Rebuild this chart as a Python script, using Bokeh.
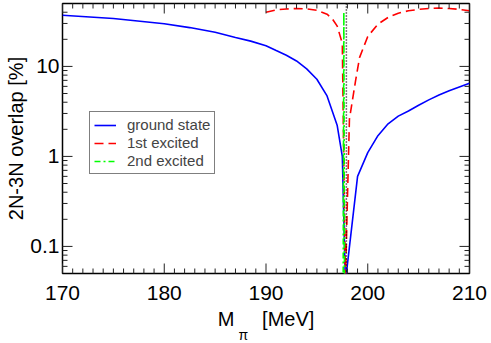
import math
from bokeh.plotting import figure
from bokeh.models import Range1d, FixedTicker, Legend, LegendItem, Span, CustomJSTickFormatter, Title
from bokeh.embed import file_html
from bokeh.resources import INLINE

# ---------------- data ----------------
mpi_ground = [170, 175, 180, 182.5, 185, 187, 188.5, 190, 191, 192, 193, 194, 195, 196, 197, 197.5, 197.8,
              199, 200, 201, 202, 203, 204, 205, 206, 207, 208, 209, 210]
ov_ground = [37, 34, 29.8, 27, 24, 21, 19.1, 17, 15, 13.3, 11.5, 9.4, 7.2, 4.7, 2.2, 1.0, 0.04,
             0.6, 1.1, 1.7, 2.3, 2.8, 3.2, 3.7, 4.25, 4.8, 5.35, 5.9, 6.5]

mpi_first = [190, 191, 192, 193, 194, 195, 196, 196.5, 197, 197.5, 197.8, 198.2, 198.8, 199.2, 200,
             201, 202, 203, 204, 205, 206, 207, 208, 209, 210]
ov_first = [40, 42.5, 43.5, 44, 43.5, 42, 38, 34, 28, 18, 0.04, 2.6, 6.9, 12.6, 21.5,
            29.5, 35, 39, 41.5, 43, 44, 44.5, 44, 43, 41.5]

mpi_second = [197.55, 197.65, 197.75]
ov_second = [0.001, 40, 0.001]

crossing_mpi = 197.9

x_lo, x_hi = 170, 210
y_lo, y_hi = 0.05, 50
x_ticks = [170, 180, 190, 200, 210]
x_minor = [v for v in range(171, 210) if v % 10 != 0]
y_ticks = [0.1, 1, 10]
y_minor = [0.06, 0.07, 0.08, 0.09, 0.2, 0.3, 0.4, 0.5, 0.6, 0.7, 0.8, 0.9,
           2, 3, 4, 5, 6, 7, 8, 9, 20, 30, 40]

FONT = "Liberation Sans"
TICK = "#222222"
FRAME_W, FRAME_H = 407, 270

p = figure(x_range=Range1d(x_lo, x_hi), y_range=Range1d(y_lo, y_hi), y_axis_type="log",
           frame_width=FRAME_W, frame_height=FRAME_H,
           min_border_top=3, min_border_right=20, min_border_left=62, min_border_bottom=70,
           output_backend="svg", toolbar_location=None)
p.outline_line_color = "black"
p.outline_line_width = 1.5
p.grid.visible = False
p.background_fill_color = "white"

for ax in (p.xaxis[0], p.yaxis[0]):
    ax.major_tick_line_color = None
    ax.minor_tick_line_color = None
    ax.major_tick_out = 0
    ax.minor_tick_out = 0
    ax.axis_line_color = None
    ax.major_label_text_font = FONT
    ax.major_label_text_font_size = "21px"
    ax.major_label_text_color = "black"
    ax.axis_label_text_font = FONT
    ax.axis_label_text_font_size = "20px"
    ax.axis_label_text_font_style = "normal"
    ax.axis_label_text_color = "black"

xa = p.xaxis[0]
xa.ticker = FixedTicker(ticks=x_ticks)
xa.major_label_standoff = 12
xa.axis_label = "M\u00a0\u00a0\u00a0\u00a0\u00a0[MeV]"
xa.axis_label_standoff = 5

ya = p.yaxis[0]
ya.ticker = FixedTicker(ticks=y_ticks)
ya.formatter = CustomJSTickFormatter(code="return tick.toString();")
ya.major_label_standoff = 3
ya.axis_label = "2N-3N overlap [%]"
ya.axis_label_standoff = 0

# subscript pi of the x-axis title
p.add_layout(Title(text="π", align="left", offset=176, text_font=FONT, text_font_size="14px",
                   text_font_style="normal", text_color="black", standoff=-15), "below")

# inward ticks on all four sides (lengths in pixels converted to data units)
dx_px = (x_hi - x_lo) / FRAME_W
dlog_px = math.log10(y_hi / y_lo) / FRAME_H
tick_xs, tick_ys = [], []
for xs, L in ((x_ticks, 10), (x_minor, 5)):
    f = 10 ** (L * dlog_px)
    for xv in xs:
        tick_xs += [[xv, xv], [xv, xv]]
        tick_ys += [[y_lo, y_lo * f], [y_hi, y_hi / f]]
for ys, L in ((y_ticks, 10), (y_minor, 5)):
    d = L * dx_px
    for yv in ys:
        tick_xs += [[x_lo, x_lo + d], [x_hi, x_hi - d]]
        tick_ys += [[yv, yv], [yv, yv]]

r1 = p.line(mpi_ground, ov_ground, line_color="#0000ff", line_width=1.6)
r2 = p.line(mpi_first, ov_first, line_color="#ff0000", line_width=1.6, line_dash="9 5")
r3 = p.line(mpi_second, ov_second, line_color="#00ff00", line_width=1.6, line_dash="6 3 2 3")
p.add_layout(Span(location=crossing_mpi, dimension="height", line_color="black",
                  line_width=1.5, line_dash="1 2"))
p.multi_line(xs=tick_xs, ys=tick_ys, line_color=TICK, line_width=1, level="overlay")

legend = Legend(items=[LegendItem(label="ground state", renderers=[r1]),
                       LegendItem(label="1st excited", renderers=[r2]),
                       LegendItem(label="2nd excited", renderers=[r3])],
                location=(27, 99))
legend.border_line_color = "black"
legend.border_line_width = 1
legend.background_fill_alpha = 1
legend.label_text_font = FONT
legend.label_text_font_size = "15px"
legend.glyph_width = 22
legend.glyph_height = 16
legend.label_height = 16
legend.label_standoff = 11
legend.padding = 4
legend.spacing = 1
legend.margin = 0
p.add_layout(legend, "center")

open("out.html", "w").write(file_html(p, INLINE))
